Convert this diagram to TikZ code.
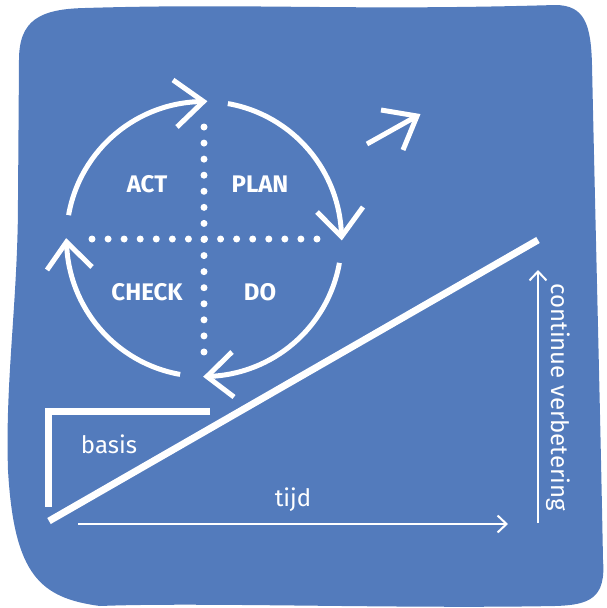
\documentclass[tikz,border=0pt]{standalone}
\usepackage{fontspec}
\setmainfont{Fira Sans}
\newfontfamily\lightfont{Fira Sans}
\usetikzlibrary{arrows.meta,calc}
\definecolor{blobblue}{RGB}{83,123,188}
\begin{document}
\begin{tikzpicture}[x=1pt,y=-1pt,
  wline/.style={draw=white,line width=5pt},
  chev/.style={draw=white,line width=5pt,line join=miter},
  heavyline/.style={draw=white,line width=7pt},
  thinarrow/.style={draw=white,line width=2pt,-{Straight Barb[length=9pt,width=17pt]}},
  boldlabel/.style={text=white,font=\bfseries\fontsize{24}{28}\selectfont,inner sep=0pt},
  lightlabel/.style={text=white,font=\lightfont\fontsize{24}{28}\selectfont,inner sep=0pt},
  dots/.style={draw=white,line width=7pt,line cap=round,dash pattern=on 0pt off 16.07pt}]
\useasboundingbox (0,0) rectangle (606,608);
% background blob
\fill[blobblue] (19,60) .. controls (19,20) and (40,9) .. (85,8)
  .. controls (250,3) and (350,11) .. (555,5)
  .. controls (585,5) and (591,25) .. (592,65)
  .. controls (596,250) and (600,400) .. (603,560)
  .. controls (606,598) and (590,605) .. (555,606)
  .. controls (400,609) and (200,602) .. (100,606)
  .. controls (40,598) and (14,575) .. (8,470)
  .. controls (5,380) and (18,300) .. (18,200) -- cycle;
% PDCA cycle
\coordinate (c) at (204,239);
\draw[wline] ($(c)+(-170:137.5)$) arc[start angle=-170,end angle=-90,radius=137.5];
\draw[wline] ($(c)+(-80:137.5)$) arc[start angle=-80,end angle=-1,radius=137.5];
\draw[wline] ($(c)+(10:137.5)$) arc[start angle=10,end angle=88.7,radius=137.5];
\draw[wline] ($(c)+(100:137.5)$) arc[start angle=100,end angle=178.7,radius=137.5];
\coordinate (tA) at (203.5,101.5);
\coordinate (tB) at (341.5,236.6);
\coordinate (tC) at (207,376.5);
\coordinate (tD) at (66.5,242);
\draw[chev] (173,80) -- (tA) -- (177,127);
\draw[chev] (317,212) -- (tB) -- (363,207);
\draw[chev] (232,352) -- (tC) -- (234,397);
\draw[chev] (47,270) -- (tD) -- (92,267);
% dotted cross
\draw[dots] (204,127) -- (204,352.1);
\draw[dots] (92,239) -- (317.1,239);
\node[boldlabel] (act) at (147,184) {ACT};
\node[boldlabel] (plan) at (260,184) {PLAN};
\node[boldlabel] (check) at (147,292.5) {CHECK};
\node[boldlabel] (do) at (260,292.5) {DO};
% small arrow top right
\coordinate (s1) at (367,144);
\coordinate (s2) at (417,116);
\draw[draw=white,line width=5pt] (s1) -- (s2);
\draw[draw=white,line width=5pt,line join=miter] (381,110) -- (s2) -- (403,150);
% diagonal line
\coordinate (d1) at (49,521);
\coordinate (d2) at (538,240);
\draw[heavyline] (d1) -- (d2);
% basis bracket
\draw[heavyline,line join=miter] (210,411.5) -- (48.5,411.5) -- (48.5,507);
% axes
\coordinate (h1) at (78,524);
\coordinate (h2) at (508,524);
\coordinate (v1) at (538,523);
\coordinate (v2) at (538,270);
\draw[thinarrow] (h1) -- (h2);
\draw[thinarrow] (v1) -- (v2);
\node[lightlabel] (basis) at (109,444) {basis};
\node[lightlabel] (tijd) at (293,500) {tijd};
\node[lightlabel,rotate=-90] (cv) at (558,397) {continue verbetering};
\end{tikzpicture}
\end{document}
